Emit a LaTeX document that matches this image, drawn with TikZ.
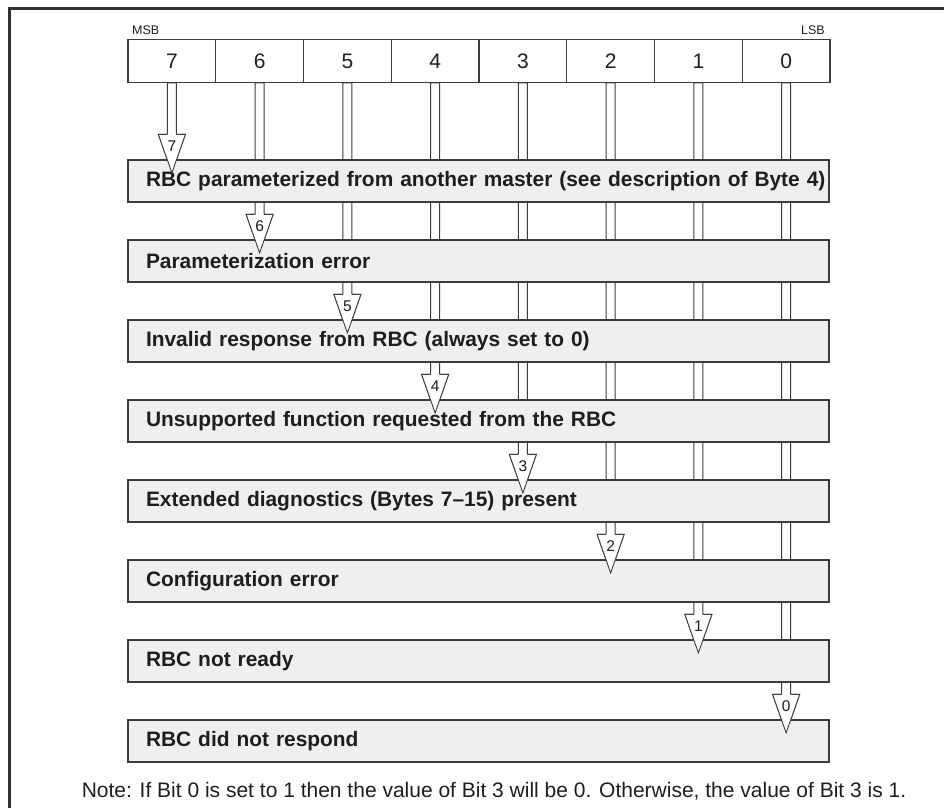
\documentclass[tikz,border=0pt]{standalone}
\usepackage{fontspec}
\setmainfont{Liberation Sans}
\usetikzlibrary{calc}
\pgfdeclarelayer{background}
\pgfsetlayers{background,main}
\definecolor{linegray}{RGB}{60,60,60}
\definecolor{framegray}{RGB}{50,50,50}
\definecolor{boxfill}{RGB}{239,239,240}
\definecolor{textdark}{RGB}{30,30,30}
\begin{document}
\begin{tikzpicture}[x=1pt,y=-1pt,
  cell/.style={draw=linegray,line width=1.2pt,minimum width=87.75pt,minimum height=42.5pt,inner sep=0pt,text=textdark,font=\fontsize{21}{25}\selectfont},
  rowbox/.style={draw=linegray,line width=1.2pt,fill=boxfill,minimum height=42pt,text width=701pt,inner xsep=0pt,inner ysep=0pt,align=left,text=textdark,font=\bfseries\fontsize{20.9}{25}\selectfont,execute at begin node={\hspace*{18pt}}},
  bitarrow/.style={draw=linegray,line width=0.9pt,fill=white},
  headline/.style={draw=linegray,line width=0.9pt,fill=white,line join=miter},
  lbl/.style={inner sep=0pt,text=textdark,font=\fontsize{15.5}{17}\selectfont},
  smalllbl/.style={inner sep=0pt,text=textdark,font=\fontsize{12.5}{14}\selectfont},
  notelbl/.style={inner sep=0pt,text=textdark,font=\fontsize{21}{25}\selectfont}]
\useasboundingbox (0,0) rectangle (944,808);
% frame
\draw[framegray,line width=2.5pt] (9.5,808) -- (9.5,8.5) -- (944,8.5);
% register
\foreach \i in {0,...,7}{
  \pgfmathsetmacro\cx{128+(7.5-\i)*87.75}
  \node[cell] (c\i) at (\cx,61) {\i};
}
\node[smalllbl,anchor=base west] (msb) at (132,35) {MSB};
\node[smalllbl,anchor=base east] (lsb) at (825,35) {LSB};
% rows
\foreach \k/\t in {0/{RBC parameterized from another master (see description of Byte 4)},
                   1/{Parameterization error},
                   2/{Invalid response from RBC (always set to 0)},
                   3/{Unsupported function requested from the RBC},
                   4/{Extended diagnostics (Bytes 7--15) present},
                   5/{Configuration error},
                   6/{RBC not ready},
                   7/{RBC did not respond}}{
  \pgfmathsetmacro\cy{181+80*\k}
  \node[rowbox] (b\k) at (478.5,\cy) {\t};
}
% block arrows behind the rows
\begin{pgfonlayer}{background}
\foreach \i in {0,...,7}{
  \pgfmathtruncatemacro\k{7-\i}
  \path[bitarrow] let \p1=(c\i.south), \p2=(b\k.north) in
    (\x1-4.5pt,\y1) -- (\x1-4.5pt,\y2+25pt) -- (\x1-13.5pt,\y2+25pt) -- (\x1,\y2-13.5pt)
    -- (\x1+13.5pt,\y2+25pt) -- (\x1+4.5pt,\y2+25pt) -- (\x1+4.5pt,\y1) -- cycle;
}
\end{pgfonlayer}
% heads over the rows
\foreach \i in {0,...,7}{
  \pgfmathtruncatemacro\k{7-\i}
  \path[headline] let \p1=(c\i.south), \p2=(b\k.north) in
    (\x1-4.5pt,\y2+25pt) -- (\x1-13.5pt,\y2+25pt) -- (\x1,\y2-13.5pt)
    -- (\x1+13.5pt,\y2+25pt) -- (\x1+4.5pt,\y2+25pt);
  \node[lbl] (l\i) at ($(c\i.south |- b\k.north)+(0,-13.5)$) {\i};
}
% note
\node[notelbl,anchor=base] (note) at (494,797) {Note: If Bit 0 is set to 1 then the value of Bit 3 will be 0. Otherwise, the value of Bit 3 is 1.};
\end{tikzpicture}
\end{document}
